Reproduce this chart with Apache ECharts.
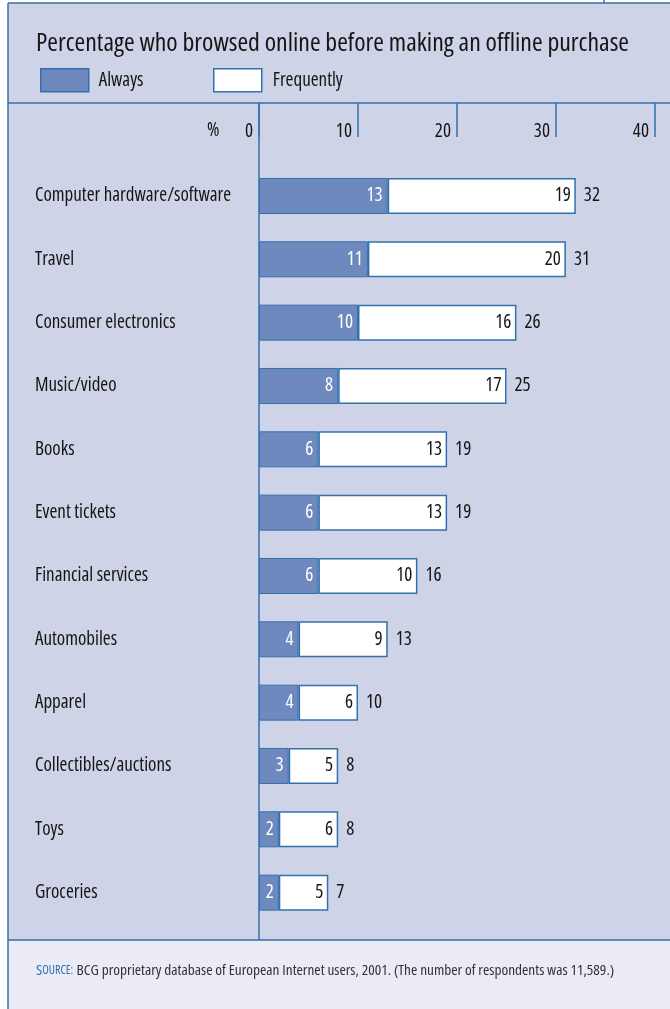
<!DOCTYPE html>
<html>
<head>
<meta charset="utf-8">
<script src="https://cdn.jsdelivr.net/npm/echarts@6/dist/echarts.min.js"></script>
<style>
  html, body { margin: 0; padding: 0; background: #ffffff; }
  #chart { width: 670px; height: 1009px; }
</style>
</head>
<body>
<div id="chart"></div>
<script>
// Shares of respondents who browsed online before buying offline, by category
const categories = [
  'Computer hardware/software', 'Travel', 'Consumer electronics', 'Music/video',
  'Books', 'Event tickets', 'Financial services', 'Automobiles', 'Apparel',
  'Collectibles/auctions', 'Toys', 'Groceries'
];
const always     = [13, 11, 10, 8, 6, 6, 6, 4, 4, 3, 2, 2];
const frequently = [19, 20, 16, 17, 13, 13, 10, 9, 6, 5, 6, 5];
const xTicks = [0, 10, 20, 30, 40];

// Open Sans is a variable font; the 'condensed' keyword lands in the canvas
// font shorthand (style/weight slot) and selects its narrow width.
const FONT = '"Open Sans", sans-serif';
const NARROW = 'condensed';
const BLUE_LINE = '#3470ad';
const ALWAYS_FILL = '#6e89bd';
const PANEL = '#ced3e7';
const FOOTER = '#eaebf4';
const INK = '#151515';

const totals = always.map((a, i) => a + frequently[i]);

const chart = echarts.init(document.getElementById('chart'), null, { renderer: 'canvas' });

const GRID_LEFT = 259, GRID_TOP = 164.3, GRID_BOTTOM = 84.7, GRID_RIGHT = 15;
const txt = (size, color) => ({ fontFamily: FONT, fontWeight: NARROW, fontSize: size, color: color || INK });
// nudges glyphs down a little so they sit on the bar centre line
const SINK = [4, 0, 0, 0];

chart.setOption({
  backgroundColor: '#ffffff',
  textStyle: { fontFamily: FONT, fontWeight: NARROW },
  animation: false,
  title: {
    text: 'Percentage who browsed online before making an offline purchase',
    left: 36, top: 31, padding: 0,
    textStyle: txt(25.8)
  },
  legend: [
    {
      data: ['Always'], left: 40, top: 68, itemWidth: 48, itemHeight: 23, itemGap: 0, padding: 0,
      icon: 'rect', selectedMode: false,
      textStyle: Object.assign(txt(19), { padding: [2, 0, 0, 5] }),
      itemStyle: { color: ALWAYS_FILL, borderColor: BLUE_LINE, borderWidth: 1.5 }
    },
    {
      data: ['Frequently'], left: 213, top: 68, itemWidth: 48, itemHeight: 23, itemGap: 0, padding: 0,
      icon: 'rect', selectedMode: false,
      textStyle: Object.assign(txt(19), { padding: [2, 0, 0, 6] }),
      itemStyle: { color: '#ffffff', borderColor: BLUE_LINE, borderWidth: 1.5 }
    }
  ],
  grid: { left: GRID_LEFT, right: GRID_RIGHT, top: GRID_TOP, bottom: GRID_BOTTOM, containLabel: false },
  xAxis: {
    type: 'value', position: 'top', min: xTicks[0], max: xTicks[xTicks.length - 1], interval: 10,
    offset: 61.3,
    axisLine: { show: false },
    axisTick: { show: true, inside: true, length: 34, lineStyle: { color: BLUE_LINE, width: 1.5 } },
    splitLine: { show: false },
    axisLabel: Object.assign(txt(19), {
      inside: true, margin: 19, align: 'right', padding: [0, 6, 0, 0],
      formatter: v => String(v)
    })
  },
  yAxis: {
    type: 'category', data: categories, inverse: true,
    axisLine: { show: false }, axisTick: { show: false },
    axisLabel: Object.assign(txt(19), { align: 'left', margin: 224, padding: SINK })
  },
  series: [
    {
      name: 'Always', type: 'bar', stack: 'share', data: always, barWidth: 36,
      itemStyle: { color: ALWAYS_FILL, borderColor: BLUE_LINE, borderWidth: 1 },
      label: Object.assign(txt(19, '#ffffff'), { show: true, position: 'insideRight', distance: 5, padding: SINK })
    },
    {
      name: 'Frequently', type: 'bar', stack: 'share', data: frequently, barWidth: 36,
      itemStyle: { color: '#ffffff', borderColor: BLUE_LINE, borderWidth: 1.5 },
      label: Object.assign(txt(19), { show: true, position: 'insideRight', distance: 5, padding: SINK })
    },
    {
      // combined share, drawn as an invisible bar so its label sits past the stack
      name: 'Total', type: 'bar', data: totals, barWidth: 36, barGap: '-100%', silent: true,
      itemStyle: { color: 'rgba(0,0,0,0)', borderWidth: 0 },
      label: Object.assign(txt(19), { show: true, position: 'right', distance: 8, padding: SINK }),
      z: 1
    }
  ]
});

// Frame, panel backgrounds and rules
const zeroX = chart.convertToPixel({ xAxisIndex: 0 }, 0);
chart.setOption({
  graphic: [
    { type: 'rect', z: -10, silent: true, shape: { x: 8, y: 3, width: 662, height: 937 }, style: { fill: PANEL } },
    { type: 'rect', z: -10, silent: true, shape: { x: 8, y: 940, width: 662, height: 69 }, style: { fill: FOOTER } },
    { type: 'line', z: 5, silent: true, shape: { x1: 8, y1: 3, x2: 670, y2: 3 }, style: { stroke: BLUE_LINE, lineWidth: 1.5 } },
    { type: 'line', z: 5, silent: true, shape: { x1: 604, y1: 0, x2: 604, y2: 3 }, style: { stroke: BLUE_LINE, lineWidth: 1.5 } },
    { type: 'line', z: 5, silent: true, shape: { x1: 8, y1: 3, x2: 8, y2: 1009 }, style: { stroke: BLUE_LINE, lineWidth: 1.5 } },
    { type: 'line', z: 5, silent: true, shape: { x1: 8, y1: 103, x2: 670, y2: 103 }, style: { stroke: BLUE_LINE, lineWidth: 1.5 } },
    { type: 'line', z: 5, silent: true, shape: { x1: 8, y1: 940, x2: 670, y2: 940 }, style: { stroke: BLUE_LINE, lineWidth: 1.5 } },
    { type: 'line', z: 5, silent: true, shape: { x1: zeroX, y1: 103, x2: zeroX, y2: 940 }, style: { stroke: BLUE_LINE, lineWidth: 1.5 } },
    {
      type: 'text', silent: true, left: 207, top: 121,
      style: { text: '%', fontFamily: FONT, fontWeight: NARROW, fontSize: 19, fill: INK }
    },
    {
      type: 'text', silent: true, left: 36, top: 963,
      style: {
        text: '{s|S}{sc|OURCE:} {t|BCG proprietary database of European Internet users, 2001. (The number of respondents was 11,589.)}',
        rich: {
          s:  { fontFamily: FONT, fontWeight: NARROW, fontSize: 15.3, fill: '#2f6fb0' },
          sc: { fontFamily: FONT, fontWeight: NARROW, fontSize: 12, fill: '#2f6fb0' },
          t:  { fontFamily: FONT, fontWeight: NARROW, fontSize: 15.3, fill: '#333333' }
        }
      }
    }
  ]
});
</script>
</body>
</html>
